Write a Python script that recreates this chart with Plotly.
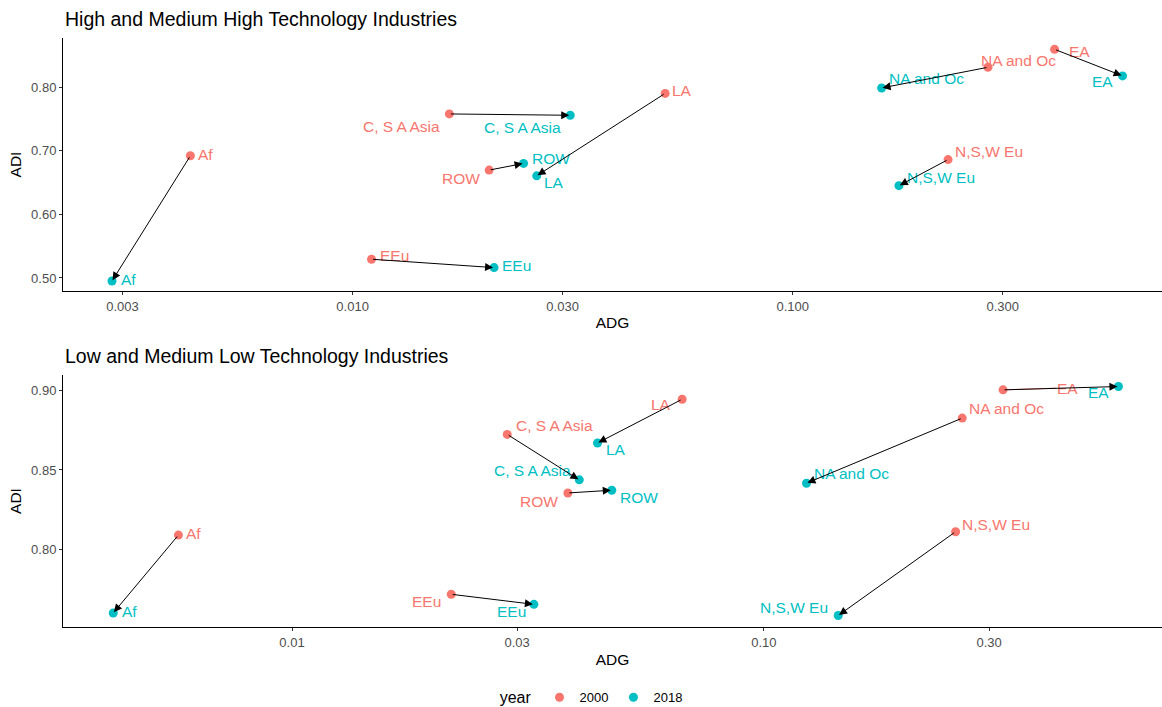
import numpy as np
import plotly.graph_objects as go

# ---- data -------------------------------------------------------------
regions = ["Af", "EEu", "C, S A Asia", "ROW", "LA", "NA and Oc", "EA", "N,S,W Eu"]

# High and Medium High Technology Industries
hi_adg_2000 = [0.00428, 0.01104, 0.01659, 0.02043, 0.0513, 0.2777, 0.3935, 0.2254]
hi_adi_2000 = [0.692, 0.5295, 0.7577, 0.6695, 0.7900, 0.8310, 0.8592, 0.6860]
hi_adg_2018 = [0.00284, 0.02096, 0.03122, 0.02446, 0.0262, 0.1592, 0.5615, 0.1743]
hi_adi_2018 = [0.4952, 0.5163, 0.7556, 0.6800, 0.6605, 0.7985, 0.8175, 0.6450]

# Low and Medium Low Technology Industries
lo_adg_2000 = [0.005745, 0.02175, 0.02858, 0.03842, 0.0671, 0.2632, 0.3212, 0.2548]
lo_adi_2000 = [0.8092, 0.7721, 0.8723, 0.8356, 0.8943, 0.8825, 0.9002, 0.8113]
lo_adg_2018 = [0.00418, 0.03255, 0.04062, 0.0476, 0.0444, 0.1231, 0.5640, 0.1437]
lo_adi_2018 = [0.7604, 0.7658, 0.8438, 0.8373, 0.8669, 0.8417, 0.9023, 0.7588]

years = ["2000", "2018"]
hi_xticks = [0.003, 0.010, 0.030, 0.100, 0.300]
hi_xtext = ["0.003", "0.010", "0.030", "0.100", "0.300"]
lo_xticks = [0.01, 0.03, 0.10, 0.30]
lo_xtext = ["0.01", "0.03", "0.10", "0.30"]
hi_yticks = [0.50, 0.60, 0.70, 0.80]
hi_ytext = ["0.50", "0.60", "0.70", "0.80"]
lo_yticks = [0.80, 0.85, 0.90]
lo_ytext = ["0.80", "0.85", "0.90"]

# ---- styling ----------------------------------------------------------
COL = {"2000": "#F8766D", "2018": "#00BFC4"}
FONT = "Liberation Sans, Arial, sans-serif"

# label placement per region: (anchor, dx, dy) in pixels, dy positive = up
hi_lab_2000 = {"Af": ("left", 6.5, 1.3), "EEu": ("left", 7.3, 3.3),
               "C, S A Asia": ("right", -8.4, -13), "ROW": ("right", -8, -8.3),
               "LA": ("left", 5.6, 3), "NA and Oc": ("left", -8.2, 6.7),
               "EA": ("left", 13.4, -1.7), "N,S,W Eu": ("left", 6.3, 7.7)}
hi_lab_2018 = {"Af": ("left", 7.7, 1.7), "EEu": ("left", 6.5, 1.7),
               "C, S A Asia": ("right", -8.4, -12.3), "ROW": ("left", 7.7, 5),
               "LA": ("left", 6.1, -6.7), "NA and Oc": ("left", 5.9, 9.3),
               "EA": ("right", -8.9, -5.3), "N,S,W Eu": ("left", 6.7, 7.7)}
lo_lab_2000 = {"Af": ("left", 6.5, 1.7), "EEu": ("right", -8.8, -7),
               "C, S A Asia": ("left", 7.7, 9), "ROW": ("right", -9.2, -8.7),
               "LA": ("right", -10, -5.7), "NA and Oc": ("left", 5.9, 9.7),
               "EA": ("left", 52.7, 1.7), "N,S,W Eu": ("left", 5.9, 7)}
lo_lab_2018 = {"Af": ("left", 7.7, 1.7), "EEu": ("right", -7.3, -7.3),
               "C, S A Asia": ("right", -6.9, 9), "ROW": ("left", 7, -7),
               "LA": ("left", 7.4, -6.3), "NA and Oc": ("left", 6.3, 9.3),
               "EA": ("right", -8.2, -6.3), "N,S,W Eu": ("right", -9.3, 8)}

fig = go.Figure()

panels = [
    ("x", "y", hi_adg_2000, hi_adi_2000, hi_adg_2018, hi_adi_2018, hi_lab_2000, hi_lab_2018),
    ("x2", "y2", lo_adg_2000, lo_adi_2000, lo_adg_2018, lo_adi_2018, lo_lab_2000, lo_lab_2018),
]

annotations = []
for i, (xa, ya, x0, y0, x1, y1, lab0, lab1) in enumerate(panels):
    for yr, xs, ys in (("2000", x0, y0), ("2018", x1, y1)):
        fig.add_trace(go.Scatter(
            x=xs, y=ys, mode="markers", xaxis=xa, yaxis=ya,
            name=yr, legendgroup=yr, showlegend=(i == 0),
            marker=dict(color=COL[yr], size=9),
            hoverinfo="skip"))
    # text labels
    for yr, xs, ys, lab in (("2000", x0, y0, lab0), ("2018", x1, y1, lab1)):
        for r, xv, yv in zip(regions, xs, ys):
            anchor, dx, dy = lab[r]
            ann = dict(x=np.log10(xv), y=yv, xref=xa, yref=ya, text=r,
                       xanchor=anchor, yanchor="middle",
                       font=dict(family=FONT, size=15.5, color=COL[yr]),
                       borderpad=0)
            if dx > 30:
                # label pushed far from its point: joined by a segment
                ann.update(showarrow=True, arrowhead=0, arrowwidth=1,
                           arrowcolor=COL[yr], ax=dx, ay=-dy, xanchor="left",
                           standoff=3)
            else:
                ann.update(showarrow=False, xshift=dx, yshift=dy)
            annotations.append(ann)
    # movement arrows 2000 -> 2018
    for xa0, ya0, xb, yb in zip(x0, y0, x1, y1):
        annotations.append(dict(
            x=np.log10(xb), y=yb, ax=np.log10(xa0), ay=ya0,
            xref=xa, yref=ya, axref=xa, ayref=ya, text="",
            showarrow=True, arrowhead=2, arrowsize=1.6, arrowwidth=1,
            arrowcolor="#000000", standoff=1))

# panel titles
annotations.append(dict(text="High and Medium High Technology Industries",
                        xref="paper", yref="paper", x=0, y=1.0,
                        xanchor="left", yanchor="bottom", yshift=6,
                        showarrow=False,
                        font=dict(family=FONT, size=19.5, color="#000000")))
annotations.append(dict(text="Low and Medium Low Technology Industries",
                        xref="paper", yref="paper", x=0, y=0.4278,
                        xanchor="left", yanchor="bottom", yshift=6,
                        showarrow=False,
                        font=dict(family=FONT, size=19.5, color="#000000")))

axis_common = dict(
    showline=True, linecolor="#000000", linewidth=1,
    showgrid=False, zeroline=False,
    ticks="outside", ticklen=3, tickcolor="#333333", tickwidth=1,
    tickfont=dict(family=FONT, size=13, color="#4D4D4D"),
    title_font=dict(family=FONT, size=15.5, color="#000000"),
)

fig.update_layout(
    width=1162, height=707,
    margin=dict(l=63, r=0, t=38, b=80),
    paper_bgcolor="white", plot_bgcolor="white",
    font=dict(family=FONT),
    annotations=annotations,
    xaxis=dict(type="log", range=[-2.658, -0.161], domain=[0, 1], anchor="y",
               tickvals=hi_xticks, ticktext=hi_xtext,
               title=dict(text="ADG", standoff=4), **axis_common),
    yaxis=dict(range=[0.4796, 0.877], domain=[0.5705, 1.0], anchor="x",
               tickvals=hi_yticks, ticktext=hi_ytext,
               title=dict(text="ADI", standoff=5), **axis_common),
    xaxis2=dict(type="log", range=[-2.4853, -0.1564], domain=[0, 1], anchor="y2",
                tickvals=lo_xticks, ticktext=lo_xtext,
                title=dict(text="ADG", standoff=5), **axis_common),
    yaxis2=dict(range=[0.7516, 0.9095], domain=[0, 0.4278], anchor="x2",
                tickvals=lo_yticks, ticktext=lo_ytext,
                title=dict(text="ADI", standoff=5), **axis_common),
    legend=dict(orientation="h", x=0.482, xanchor="center",
                yref="container", y=0.013, yanchor="middle",
                title=dict(text="year", font=dict(family=FONT, size=16, color="#000000")),
                font=dict(family=FONT, size=13, color="#000000"),
                itemwidth=30, tracegroupgap=0),
)

fig.write_html("out.html")
